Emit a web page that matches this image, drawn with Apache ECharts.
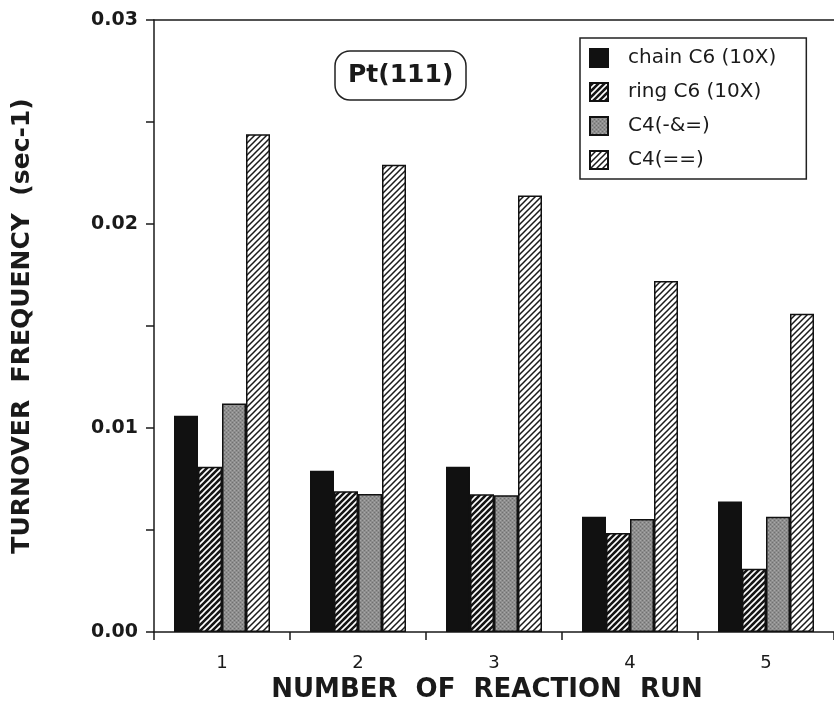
<!DOCTYPE html>
<html>
<head>
<meta charset="utf-8">
<script src="https://cdn.jsdelivr.net/npm/echarts@6/dist/echarts.min.js"></script>
<style>
html,body{margin:0;padding:0;background:#fff;}
#chart{width:834px;height:714px;}
</style>
</head>
<body>
<div id="chart"></div>
<script>
const categories = ['1', '2', '3', '4', '5'];
const seriesNames = ['chain C6 (10X)', 'ring C6 (10X)', 'C4(-&=)', 'C4(==)'];
const chainC6 = [0.0106, 0.0079, 0.0081, 0.00565, 0.0064];
const ringC6 = [0.0081, 0.0069, 0.00675, 0.00485, 0.0031];
const c4a = [0.0112, 0.00676, 0.0067, 0.00554, 0.00565];
const c4b = [0.0244, 0.0229, 0.0214, 0.0172, 0.0156];
const yTicks = [0, 0.01, 0.02, 0.03];

function hatch(bg, fg, size, lw) {
  const c = document.createElement('canvas');
  c.width = size; c.height = size;
  const g = c.getContext('2d');
  g.fillStyle = bg; g.fillRect(0, 0, size, size);
  g.strokeStyle = fg; g.lineWidth = lw;
  g.beginPath();
  g.moveTo(-1, size + 1); g.lineTo(size + 1, -1);
  g.moveTo(-1, 1); g.lineTo(1, -1);
  g.moveTo(size - 1, size + 1); g.lineTo(size + 1, size - 1);
  g.stroke();
  return c;
}
function stipple() {
  const c = document.createElement('canvas');
  c.width = 4; c.height = 4;
  const g = c.getContext('2d');
  g.fillStyle = '#8e8e8e'; g.fillRect(0, 0, 4, 4);
  g.fillStyle = '#a8a8a8'; g.fillRect(0, 0, 1, 1); g.fillRect(2, 2, 1, 1);
  g.fillStyle = '#707070'; g.fillRect(2, 0, 1, 1); g.fillRect(0, 2, 1, 1);
  return c;
}
const fills = [
  '#111111',
  { image: hatch('#151515', '#ffffff', 6, 1.6), repeat: 'repeat' },
  { image: stipple(), repeat: 'repeat' },
  { image: hatch('#ffffff', '#1a1a1a', 6, 1.5), repeat: 'repeat' }
];
const dataSets = [chainC6, ringC6, c4a, c4b];

const FONT = 'DejaVu Sans';
const chart = echarts.init(document.getElementById('chart'), null, { renderer: 'canvas' });
chart.setOption({
  animation: false,
  backgroundColor: '#fff',
  title: {
    text: 'Pt(111)',
    left: 335, top: 51,
    padding: [12, 13, 12, 13],
    borderColor: '#222', borderWidth: 1.5, borderRadius: 15,
    textStyle: { fontFamily: FONT, fontWeight: 'bold', fontSize: 25, color: '#1a1a1a' }
  },
  legend: {
    orient: 'vertical',
    left: 580, top: 38,
    padding: [10, 30, 9, 9],
    itemWidth: 18, itemHeight: 18, itemGap: 14,
    borderColor: '#222', borderWidth: 1.5,
    textStyle: { fontFamily: FONT, fontSize: 20, color: '#1a1a1a', padding: [0, 0, 0, 15] },
    data: seriesNames.map(n => ({ name: n, icon: 'rect' }))
  },
  grid: { left: 154, right: 0, top: 20, bottom: 82, containLabel: false },
  xAxis: [{
    type: 'category',
    data: categories,
    name: 'NUMBER  OF  REACTION  RUN',
    nameLocation: 'middle',
    nameGap: 45,
    nameTextStyle: { fontFamily: FONT, fontWeight: 'bold', fontSize: 26, color: '#1a1a1a', padding: [0, 14, 0, 0] },
    axisLine: { lineStyle: { color: '#1a1a1a', width: 1.5 } },
    axisTick: { show: true, length: 8, inside: false, lineStyle: { color: '#1a1a1a', width: 1.5 } },
    axisLabel: { margin: 22, fontFamily: FONT, fontSize: 18, color: '#1a1a1a' }
  }, {
    type: 'category',
    position: 'top',
    data: categories,
    axisLine: { show: true, lineStyle: { color: '#1a1a1a', width: 1.5 } },
    axisTick: { show: false },
    axisLabel: { show: false }
  }],
  yAxis: {
    type: 'value',
    min: 0, max: 0.03, interval: 0.01,
    name: 'TURNOVER  FREQUENCY  (sec-1)',
    nameLocation: 'middle',
    nameGap: 119,
    nameTextStyle: { fontFamily: FONT, fontWeight: 'bold', fontSize: 25, color: '#1a1a1a' },
    axisLine: { show: true, lineStyle: { color: '#1a1a1a', width: 1.5 } },
    axisTick: { show: true, length: 8, lineStyle: { color: '#1a1a1a', width: 1.5 } },
    minorTick: { show: true, splitNumber: 2, length: 8, lineStyle: { color: '#1a1a1a', width: 1.5 } },
    splitLine: { show: false },
    axisLabel: {
      margin: 16, fontFamily: FONT, fontWeight: 'bold', fontSize: 19, color: '#1a1a1a',
      formatter: v => yTicks.indexOf(Math.round(v * 1000) / 1000) >= 0 ? v.toFixed(2) : ''
    }
  },
  series: seriesNames.map((n, i) => ({
    name: n,
    type: 'bar',
    data: dataSets[i],
    barWidth: 24,
    barGap: '0%',
    itemStyle: { color: fills[i], borderColor: '#111', borderWidth: 1.5 }
  }))
});
</script>
</body>
</html>
